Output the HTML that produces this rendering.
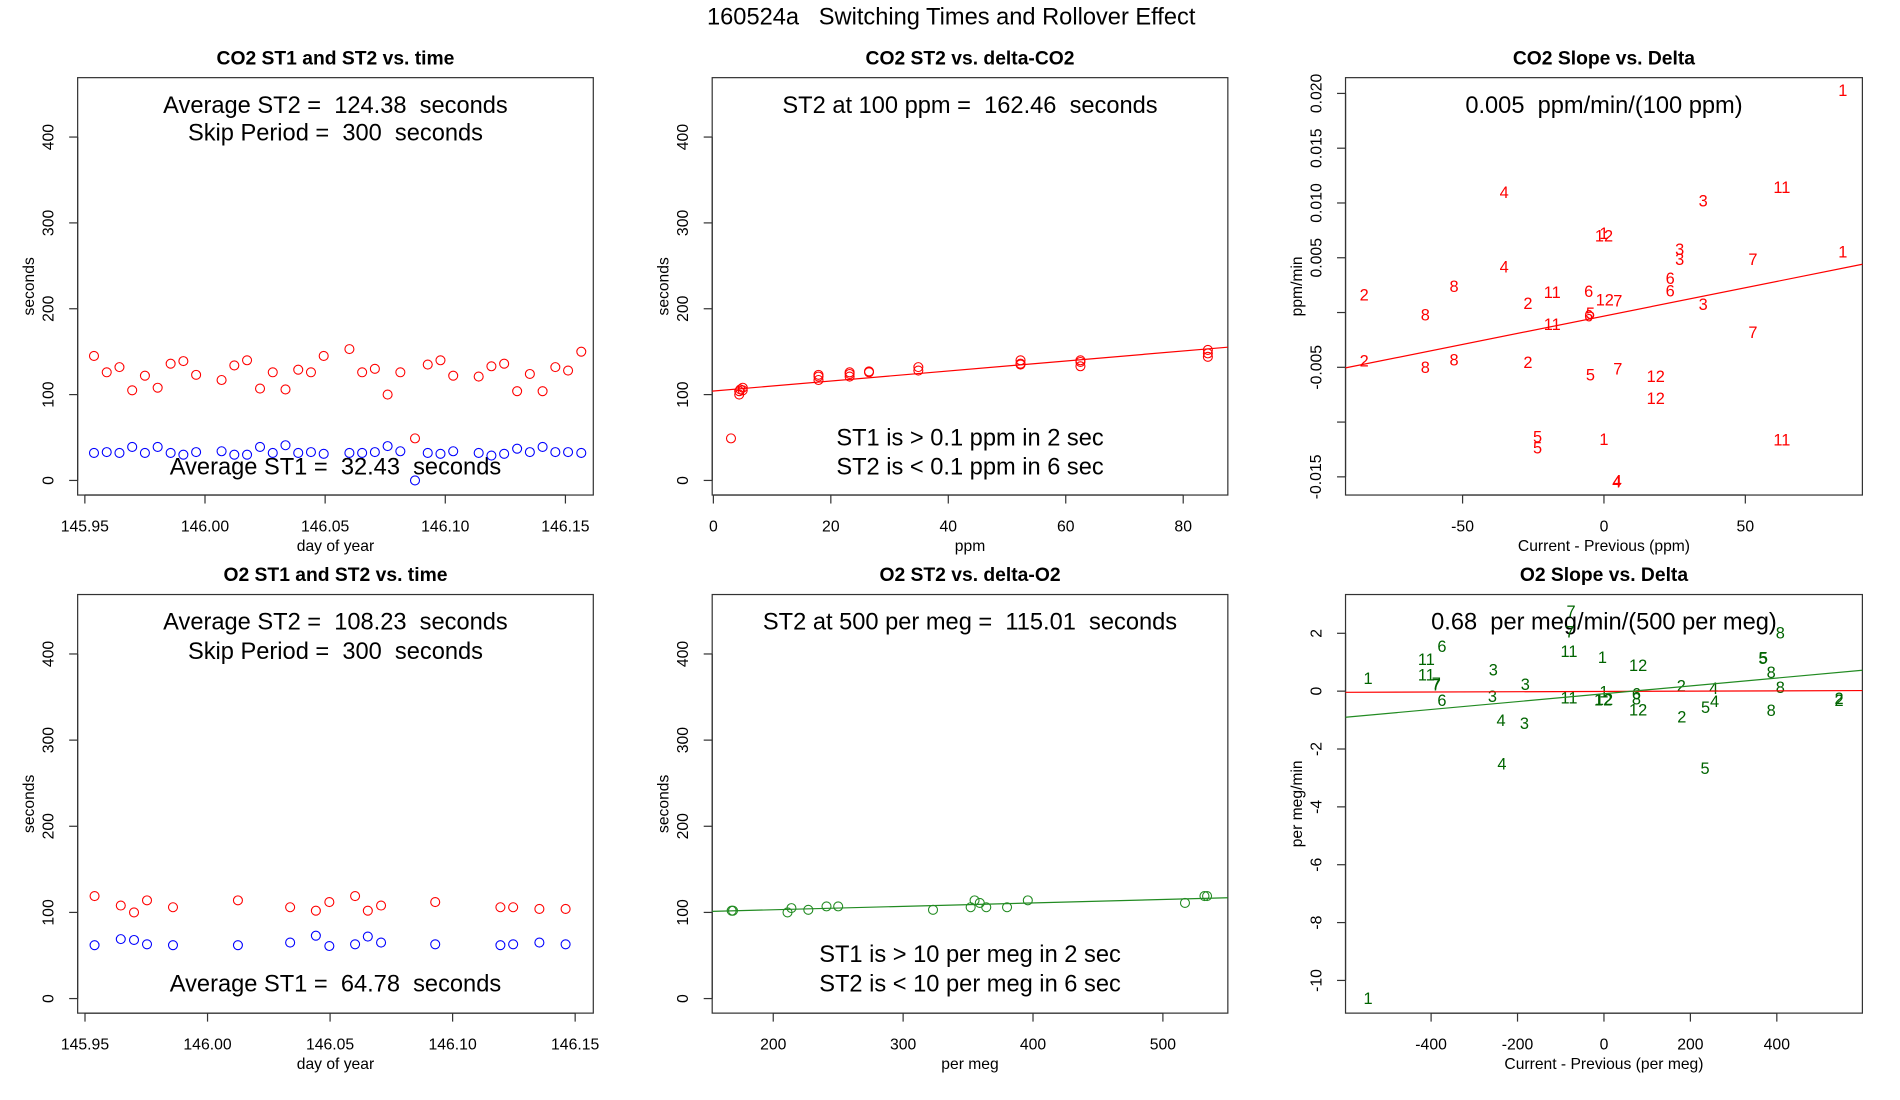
<!DOCTYPE html>
<html><head><meta charset="utf-8"><style>
html,body{margin:0;padding:0;background:#fff;}
svg{display:block;font-family:"Liberation Sans",Arial,sans-serif;}
svg text{white-space:pre;}
</style></head><body>
<svg id="fig" width="1900" height="1100" viewBox="0 0 1566 906.6" preserveAspectRatio="none" xmlns="http://www.w3.org/2000/svg" xml:space="preserve">
<text x="784" y="20" text-anchor="middle" font-size="19.5">160524a   Switching Times and Rollover Effect</text>
</svg>
<script>
// ---- Panel 1: CO2 ST1/ST2 vs time ----
const co2Days = [145.9538,145.9591,145.9644,145.9697,145.9750,145.9803,145.9857,145.9910,145.9963,146.0069,146.0122,146.0175,146.0229,146.0282,146.0335,146.0388,146.0441,146.0494,146.0601,146.0654,146.0707,146.0760,146.0813,146.0874,146.0927,146.0980,146.1033,146.1139,146.1192,146.1245,146.1299,146.1352,146.1405,146.1458,146.1511,146.1566];
const co2ST2 = [145,126,132,105,122,108,136,139,123,117,134,140,107,126,106,129,126,145,153,126,130,100,126,49,135,140,122,121,133,136,104,124,104,132,128,150];
const co2ST1 = [32,33,32,39,32,39,32,30,33,34,30,30,39,32,41,32,33,31,32,32,33,40,34,0,32,31,34,32,29,31,37,33,39,33,33,32];
// ---- Panel 4: O2 ST1/ST2 vs time ----
const o2Days = [145.9539,145.9646,145.9700,145.9753,145.9859,146.0124,146.0337,146.0442,146.0497,146.0602,146.0654,146.0708,146.0929,146.1195,146.1247,146.1354,146.1461];
const o2ST2 = [119,108,100,114,106,114,106,102,112,119,102,108,112,106,106,104,104];
const o2ST1 = [62,69,68,63,62,62,65,73,61,63,72,65,63,62,63,65,63];
// ---- Panel 2: CO2 ST2 vs delta ----
const co2Delta = [3.0,4.4,4.4,4.6,5.0,5.0,17.9,17.9,17.9,23.2,23.2,23.2,26.5,26.5,34.9,34.9,52.3,52.3,52.3,62.5,62.5,62.5,84.2,84.2,84.2];
const co2DeltaST2 = [49,100,104,106,108,105,117,121,123,121,126,124,126,127,132,128,136,140,135,133,140,138,144,152,148];
const co2Fit = [104.15, 0.5831];
// ---- Panel 5: O2 ST2 vs delta ----
const o2Delta = [168,169,211,214,227,241,250,323,352,355,359,364,380,396,517,532,534];
const o2DeltaST2 = [102,102,100,105,103,107,107,103,106,114,111,106,106,114,111,119,119];
const o2Fit = [115.01, 0.0398];
// ---- Panel 3: CO2 slope vs delta (labelled by month) ----
const co2SlopeLabels = ["1","4","11","3","1","12","3","3","7","1","4","6","8","2","11","6","6","12","7","2","3","8","5","6","11","7","2","8","8","2","7","5","12","12","5","5","1","11","4","4"];
const co2SlopeX = [84.5,-35.3,62.9,35.1,0,0,26.8,26.8,52.7,84.5,-35.3,23.4,-53,-84.8,-18.3,-5.4,23.4,0.3,4.9,-26.9,35.1,-63.2,-4.8,-5.4,-18.3,52.7,-84.8,-53,-63.2,-26.9,4.9,-4.8,18.3,18.3,-23.5,-23.5,0,62.9,4.5,4.7];
const co2SlopeY = [0.0203,0.0110,0.01142,0.01019,0.00725,0.0070,0.0058,0.00485,0.00488,0.00556,0.0042,0.00315,0.0024,0.00164,0.00185,0.00194,0.00198,0.00117,0.00108,0.00086,0.00074,-0.00019,-0.00006,-0.0003,-0.00108,-0.00179,-0.00438,-0.00432,-0.00497,-0.00454,-0.00512,-0.00568,-0.0058,-0.0078,-0.01133,-0.01235,-0.01154,-0.0116,-0.01543,-0.01537];
const co2SlopeFit = [-0.000325, 0.00005175];
// ---- Panel 6: O2 slope vs delta ----
const o2SlopeLabels = ["1","1","6","11","11","7","7","6","3","3","3","3","4","4","7","7","11","11","1","1","12","12","12","12","6","8","2","2","4","4","5","5","5","5","8","8","8","8","2","2"];
const o2SlopeX = [-546,-546,-375,-411,-411,-388,-388,-375,-256,-258,-182,-184,-238,-236,-76,-79,-81,-81,-3.5,0,-2,0,79,79,75,75,179,180,254,256,235,234,368,369,408,387,408,387,544,544];
const o2SlopeY = [0.45,-10.62,1.56,1.11,0.57,0.27,0.22,-0.32,0.74,-0.18,0.24,-1.1,-1.0,-2.5,2.77,2.06,1.38,-0.23,1.17,-0.02,-0.3,-0.27,0.89,-0.64,-0.08,-0.26,0.19,-0.88,0.1,-0.35,-0.56,-2.67,1.14,1.15,2.02,0.65,0.13,-0.65,-0.24,-0.32];
const o2SlopeFit = [-0.09, 0.001358];
const o2SlopeRedFit = [-0.01, 0.00005];

const NS = "http://www.w3.org/2000/svg";
const svg = document.getElementById('fig');
function mk(tag, attrs, parent, text){
  const e = document.createElementNS(NS, tag);
  for (const k in attrs) e.setAttribute(k, attrs[k]);
  if (text !== undefined) e.textContent = text;
  (parent || svg).appendChild(e);
  return e;
}
function panel(o){
  const g = mk('g', {});
  
  
  const sx = v => o.bx[0] + (v - o.xlim[0]) / (o.xlim[1] - o.xlim[0]) * (o.bx[1] - o.bx[0]);
  const sy = v => o.by[1] - (v - o.ylim[0]) / (o.ylim[1] - o.ylim[0]) * (o.by[1] - o.by[0]);
  const t = mk('text', {x: (o.bx[0]+o.bx[1])/2, y: o.by[0]-11, 'text-anchor':'middle', 'font-size':15.9, 'font-weight':'bold'}, g, o.title);
  
  
  const box = mk('rect', {x:o.bx[0], y:o.by[0], width:o.bx[1]-o.bx[0], height:o.by[1]-o.by[0], fill:'none', stroke:'#333', 'stroke-width':1}, g);
  
  
  const xa = mk('g', {}, g);
  
  
  const xt = o.xticks;
  mk('line', {x1:sx(xt[0]), x2:sx(xt[xt.length-1]), y1:o.by[1], y2:o.by[1], stroke:'#333'}, xa);
  xt.forEach((v,i) => {
    mk('line', {x1:sx(v), x2:sx(v), y1:o.by[1], y2:o.by[1]+7, stroke:'#333'}, xa);
    const l = mk('text', {x:sx(v), y:o.by[1]+30, 'text-anchor':'middle', 'font-size':13}, xa, o.xlabels[i]);
    
    
  });
  const xtt = mk('text', {x:(o.bx[0]+o.bx[1])/2, y:o.by[1]+46, 'text-anchor':'middle', 'font-size':12.9}, g, o.xtitle);
  
  
  const ya = mk('g', {}, g);
  
  
  const yt = o.yticks;
  mk('line', {x1:o.bx[0], x2:o.bx[0], y1:sy(yt[0]), y2:sy(yt[yt.length-1]), stroke:'#333'}, ya);
  yt.forEach((v,i) => {
    mk('line', {x1:o.bx[0]-7, x2:o.bx[0], y1:sy(v), y2:sy(v), stroke:'#333'}, ya);
    const lx = o.bx[0]-20, ly = sy(v);
    const l = mk('text', {x:lx, y:ly, 'text-anchor':'middle', 'font-size':13, transform:`rotate(-90 ${lx} ${ly})`}, ya, o.ylabels[i]);
    
    
  });
  const tx = o.bx[0]-36, ty = (o.by[0]+o.by[1])/2;
  const ytt = mk('text', {x:tx, y:ty, 'text-anchor':'middle', 'font-size':12.9, transform:`rotate(-90 ${tx} ${ty})`}, g, o.ytitle);
  
  
  (o.notes||[]).forEach(n => {
    const a = mk('text', {x:(o.bx[0]+o.bx[1])/2, y:n[1], 'text-anchor':'middle', 'font-size':19.5}, g, n[0]);
    
    
  });
  return {g, sx, sy};
}
function circles(p, xs, ys, color, name){
  xs.forEach((x,i) => {
    const c = mk('circle', {cx:p.sx(x), cy:p.sy(ys[i]), r:3.7, fill:'none', stroke:color, 'stroke-width':0.9}, p.g);
    
    
  });
}
function labels(p, xs, ys, labs, color, name){
  xs.forEach((x,i) => {
    const t = mk('text', {x:p.sx(x), y:p.sy(ys[i])+4.8, 'text-anchor':'middle', 'font-size':13.5, fill:color}, p.g, labs[i]);
    
    
  });
}
function fitline(p, xlim, fit, x0, color, name){
  const l = mk('line', {x1:p.sx(xlim[0]), y1:p.sy(fit[0]+fit[1]*(xlim[0]-x0)), x2:p.sx(xlim[1]), y2:p.sy(fit[0]+fit[1]*(xlim[1]-x0)), stroke:color, 'stroke-width':1}, p.g);
  
  
}
const timeTicks = [145.95,146.00,146.05,146.10,146.15];
const timeLabels = ["145.95","146.00","146.05","146.10","146.15"];
const secTicks = [0,100,200,300,400];
const secLabels = ["0","100","200","300","400"];

const p1 = panel({name:'co2-time-panel', title:'CO2 ST1 and ST2 vs. time', bx:[64,489], by:[64,408], xlim:[145.947,146.1616], ylim:[-17,469.2],
  xticks:timeTicks, xlabels:timeLabels, yticks:secTicks, ylabels:secLabels, xtitle:'day of year', ytitle:'seconds',
  notes:[['Average ST2 =  124.38  seconds',93],['Skip Period =  300  seconds',116],['Average ST1 =  32.43  seconds',391]]});
circles(p1, co2Days, co2ST2, '#ff0000', 'co2-st2-point');
circles(p1, co2Days, co2ST1, '#0000ff', 'co2-st1-point');

const p2 = panel({name:'co2-delta-panel', title:'CO2 ST2 vs. delta-CO2', bx:[587,1012], by:[64,408], xlim:[-0.2,87.6], ylim:[-17,469.2],
  xticks:[0,20,40,60,80], xlabels:["0","20","40","60","80"], yticks:secTicks, ylabels:secLabels, xtitle:'ppm', ytitle:'seconds',
  notes:[['ST2 at 100 ppm =  162.46  seconds',93],['ST1 is > 0.1 ppm in 2 sec',367],['ST2 is < 0.1 ppm in 6 sec',391]]});
circles(p2, co2Delta, co2DeltaST2, '#ff0000', 'co2-delta-point');
fitline(p2, [-0.2,87.6], co2Fit, 0, '#ff0000', 'co2-fit-line');

const p3 = panel({name:'co2-slope-panel', title:'CO2 Slope vs. Delta', bx:[1109,1535], by:[64,408], xlim:[-91.4,91.4], ylim:[-0.01666,0.02144],
  xticks:[-50,0,50], xlabels:["-50","0","50"], yticks:[-0.015,-0.010,-0.005,0,0.005,0.010,0.015,0.020], ylabels:["-0.015","","-0.005","","0.005","0.010","0.015","0.020"],
  xtitle:'Current - Previous (ppm)', ytitle:'ppm/min', notes:[['0.005  ppm/min/(100 ppm)',93]]});
labels(p3, co2SlopeX, co2SlopeY, co2SlopeLabels, '#ff0000', 'co2-slope-label');
fitline(p3, [-91.4,91.4], co2SlopeFit, 0, '#ff0000', 'co2-slope-fit-line');

const p4 = panel({name:'o2-time-panel', title:'O2 ST1 and ST2 vs. time', bx:[64,489], by:[490,835], xlim:[145.947,146.1574], ylim:[-16.9,469],
  xticks:timeTicks, xlabels:timeLabels, yticks:secTicks, ylabels:secLabels, xtitle:'day of year', ytitle:'seconds',
  notes:[['Average ST2 =  108.23  seconds',519],['Skip Period =  300  seconds',543],['Average ST1 =  64.78  seconds',817]]});
circles(p4, o2Days, o2ST2, '#ff0000', 'o2-st2-point');
circles(p4, o2Days, o2ST1, '#0000ff', 'o2-st1-point');

const p5 = panel({name:'o2-delta-panel', title:'O2 ST2 vs. delta-O2', bx:[587,1012], by:[490,835], xlim:[153,550], ylim:[-16.9,469],
  xticks:[200,300,400,500], xlabels:["200","300","400","500"], yticks:secTicks, ylabels:secLabels, xtitle:'per meg', ytitle:'seconds',
  notes:[['ST2 at 500 per meg =  115.01  seconds',519],['ST1 is > 10 per meg in 2 sec',793],['ST2 is < 10 per meg in 6 sec',817]]});
circles(p5, o2Delta, o2DeltaST2, '#228b22', 'o2-delta-point');
fitline(p5, [153,550], o2Fit, 500, '#228b22', 'o2-fit-line');

const p6 = panel({name:'o2-slope-panel', title:'O2 Slope vs. Delta', bx:[1109,1535], by:[490,835], xlim:[-598,598], ylim:[-11.13,3.34],
  xticks:[-400,-200,0,200,400], xlabels:["-400","-200","0","200","400"], yticks:[-10,-8,-6,-4,-2,0,2], ylabels:["-10","-8","-6","-4","-2","0","2"],
  xtitle:'Current - Previous (per meg)', ytitle:'per meg/min', notes:[['0.68  per meg/min/(500 per meg)',519]]});
labels(p6, o2SlopeX, o2SlopeY, o2SlopeLabels, '#006400', 'o2-slope-label');
fitline(p6, [-598,598], o2SlopeRedFit, 0, '#ff0000', 'o2-slope-zero-line');
fitline(p6, [-598,598], o2SlopeFit, 0, '#228b22', 'o2-slope-fit-line');
</script>
</body></html>
